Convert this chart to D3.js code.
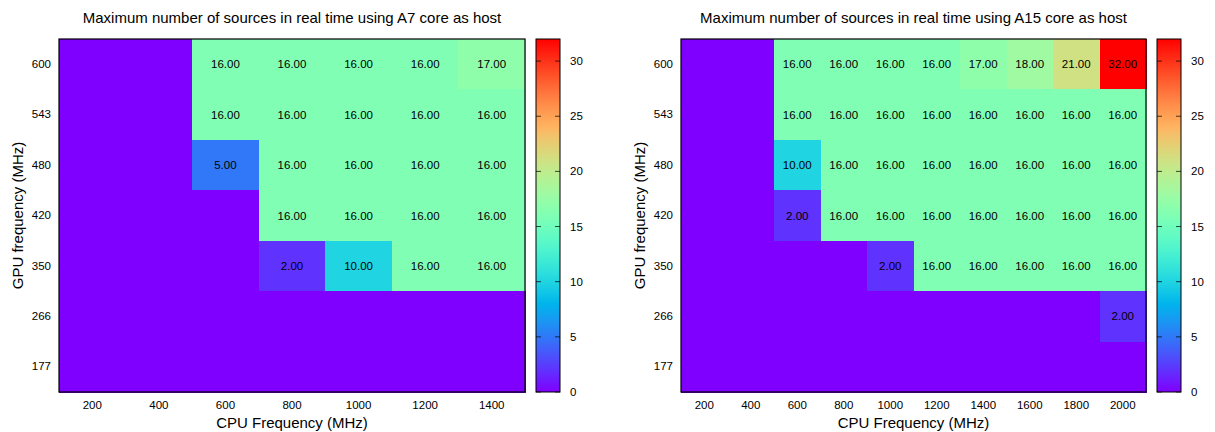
<!DOCTYPE html>
<html>
<head>
<meta charset="utf-8">
<script src="https://cdn.jsdelivr.net/npm/d3@7"></script>
<style>
  body { margin: 0; background: #fff; }
  svg text { font-family: "Liberation Sans", Arial, sans-serif; fill: #000; }
</style>
</head>
<body>
<svg id="chart" width="1215" height="432"></svg>
<script>
// ---- data ----
const gpuFreqs = [600, 543, 480, 420, 350, 266, 177];          // rows, top to bottom
const cpuFreqsA7 = [200, 400, 600, 800, 1000, 1200, 1400];
const cpuFreqsA15 = [200, 400, 600, 800, 1000, 1200, 1400, 1600, 1800, 2000];

// values[row][col]; rows follow gpuFreqs order
const valuesA7 = [
  [0, 0, 16, 16, 16, 16, 17],
  [0, 0, 16, 16, 16, 16, 16],
  [0, 0, 5, 16, 16, 16, 16],
  [0, 0, 0, 16, 16, 16, 16],
  [0, 0, 0, 2, 10, 16, 16],
  [0, 0, 0, 0, 0, 0, 0],
  [0, 0, 0, 0, 0, 0, 0]
];
const valuesA15 = [
  [0, 0, 16, 16, 16, 16, 17, 18, 21, 32],
  [0, 0, 16, 16, 16, 16, 16, 16, 16, 16],
  [0, 0, 10, 16, 16, 16, 16, 16, 16, 16],
  [0, 0, 2, 16, 16, 16, 16, 16, 16, 16],
  [0, 0, 0, 0, 2, 16, 16, 16, 16, 16],
  [0, 0, 0, 0, 0, 0, 0, 0, 0, 2],
  [0, 0, 0, 0, 0, 0, 0, 0, 0, 0]
];
const colorTicks = [0, 5, 10, 15, 20, 25, 30];
const colorDomain = [0, 32];
const titles = [
  "Maximum number of sources in real time using A7 core as host",
  "Maximum number of sources in real time using A15 core as host"
];
const xTitle = "CPU Frequency (MHz)";
const yTitle = "GPU frequency (MHz)";

// gnuplot rainbow palette (rgbformulae 33,13,10)
function rainbow(t) {
  const r = Math.min(1, Math.abs(2 * t - 0.5));
  const g = Math.sin(Math.PI * t);
  const b = Math.cos(Math.PI * t / 2);
  return d3.rgb(r * 255, Math.max(0, g) * 255, Math.max(0, b) * 255).formatHex();
}
const color = d3.scaleSequential(rainbow).domain(colorDomain);

const svg = d3.select("#chart");
const defs = svg.append("defs");
const grad = defs.append("linearGradient").attr("id", "cbgrad")
  .attr("x1", 0).attr("y1", 1).attr("x2", 0).attr("y2", 0);
d3.range(0, 33, 1).forEach(v => {
  grad.append("stop").attr("offset", (v / 32)).attr("stop-color", color(v));
});

function panel(cfg) {
  const { left, right, top, bottom, cbLeft, cbRight, cpu, values, title, idx } = cfg;
  const g = svg.append("g");
  const x = d3.scaleBand().domain(cpu).range([left, right]).padding(0);
  const y = d3.scaleBand().domain(gpuFreqs).range([top, bottom]).padding(0);

  const cells = [];
  values.forEach((row, ri) => row.forEach((v, ci) => cells.push({ gpu: gpuFreqs[ri], cpu: cpu[ci], v })));

  g.selectAll("rect.cell").data(cells).join("rect")
    .attr("class", "cell")
    .attr("x", d => x(d.cpu)).attr("y", d => y(d.gpu))
    .attr("width", x.bandwidth() + 0.5).attr("height", y.bandwidth() + 0.5)
    .attr("fill", d => color(d.v))
    .attr("shape-rendering", "crispEdges");

  g.selectAll("text.lab").data(cells.filter(d => d.v > 0)).join("text")
    .attr("class", "lab")
    .attr("x", d => x(d.cpu) + x.bandwidth() / 2)
    .attr("y", d => y(d.gpu) + y.bandwidth() / 2)
    .attr("text-anchor", "middle").attr("dy", "0.35em")
    .attr("font-size", "11.5px")
    .text(d => d.v.toFixed(2));

  g.append("rect").attr("x", left).attr("y", top)
    .attr("width", right - left).attr("height", bottom - top)
    .attr("fill", "none").attr("stroke", "#000").attr("stroke-width", 1.2);

  // axes
  const xa = g.append("g").attr("transform", `translate(0,${bottom})`)
    .call(d3.axisBottom(x).tickSize(0).tickPadding(9));
  xa.select(".domain").remove();
  xa.selectAll("text").attr("font-size", "11.5px").attr("font-family", "Liberation Sans, Arial, sans-serif");

  const ya = g.append("g").attr("transform", `translate(${left},0)`)
    .call(d3.axisLeft(y).tickSize(0).tickPadding(8));
  ya.select(".domain").remove();
  ya.selectAll("text").attr("font-size", "11.5px").attr("font-family", "Liberation Sans, Arial, sans-serif");

  g.append("text").attr("x", (left + right) / 2).attr("y", 23)
    .attr("text-anchor", "middle").attr("font-size", "15px").text(title);
  g.append("text").attr("x", (left + right) / 2).attr("y", 428)
    .attr("text-anchor", "middle").attr("font-size", "15px").text(xTitle);
  g.append("text")
    .attr("transform", `translate(${left - 36},${(top + bottom) / 2}) rotate(-90)`)
    .attr("text-anchor", "middle").attr("font-size", "15px").text(yTitle);

  // colorbar
  const cs = d3.scaleLinear().domain(colorDomain).range([bottom, top]);
  g.append("rect").attr("x", cbLeft).attr("y", top)
    .attr("width", cbRight - cbLeft).attr("height", bottom - top)
    .attr("fill", "url(#cbgrad)").attr("stroke", "#000").attr("stroke-width", 1);
  const tk = g.selectAll("g.cbt").data(colorTicks).join("g").attr("class", "cbt");
  tk.append("line").attr("x1", cbLeft).attr("x2", cbLeft + 5)
    .attr("y1", d => cs(d)).attr("y2", d => cs(d))
    .attr("stroke", "#000").attr("stroke-opacity", 0.7);
  tk.append("line").attr("x1", cbRight - 5).attr("x2", cbRight)
    .attr("y1", d => cs(d)).attr("y2", d => cs(d))
    .attr("stroke", "#000").attr("stroke-opacity", 0.7);
  tk.append("text").attr("x", cbRight + 10).attr("y", d => cs(d))
    .attr("dy", "0.35em").attr("font-size", "11.5px").text(d => d);
}

panel({ left: 59, right: 525, top: 39, bottom: 392, cbLeft: 536, cbRight: 560,
        cpu: cpuFreqsA7, values: valuesA7, title: titles[0], idx: 0 });
panel({ left: 681, right: 1146, top: 39, bottom: 392, cbLeft: 1157, cbRight: 1181,
        cpu: cpuFreqsA15, values: valuesA15, title: titles[1], idx: 1 });
</script>
</body>
</html>
